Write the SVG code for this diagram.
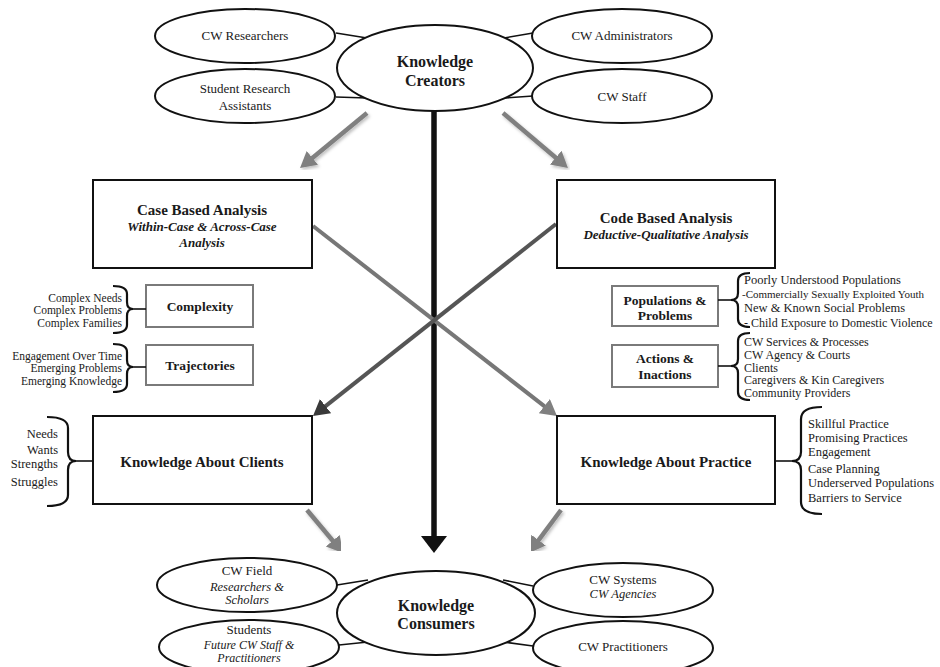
<svg xmlns="http://www.w3.org/2000/svg" width="940" height="667" viewBox="0 0 940 667">
<style>
text{font-family:"Liberation Serif","Times New Roman",serif;fill:#1a1a1a}
.ell{fill:#fff;stroke:#111;stroke-width:2}
.box{fill:#fff;stroke:#111;stroke-width:2}
.sbox{fill:#fff;stroke:#7a7a7a;stroke-width:2}
.t13{font-size:13px;text-anchor:middle}
.it{font-size:12.5px;font-style:italic;text-anchor:middle}
.kb{font-size:16px;font-weight:bold;text-anchor:middle}
.title{font-size:15px;font-weight:bold;text-anchor:middle}
.sub{font-size:13px;font-weight:bold;font-style:italic;text-anchor:middle}
.sb{font-size:13.5px;font-weight:bold;text-anchor:middle}
.lr{font-size:11.5px;text-anchor:end}
.ll{font-size:12.5px;text-anchor:start}
.brace{fill:none;stroke:#111;stroke-width:2.2}
.tie{stroke:#111;stroke-width:1.6}
.ga{stroke:#808080;stroke-width:4.5;fill:none;marker-end:url(#ag);filter:url(#sh)}
</style>
<defs>
<marker id="ag" markerUnits="userSpaceOnUse" markerWidth="20" markerHeight="20" refX="4" refY="9" orient="auto"><path d="M0,0 L16,9 L0,18 Z" fill="#808080"/></marker>
<marker id="ad" markerUnits="userSpaceOnUse" markerWidth="20" markerHeight="20" refX="4" refY="9" orient="auto"><path d="M0,0 L16,9 L0,18 Z" fill="#3a3a3a"/></marker>
<marker id="ab" markerUnits="userSpaceOnUse" markerWidth="20" markerHeight="28" refX="4" refY="13" orient="auto"><path d="M0,0 L17,13 L0,26 Z" fill="#111"/></marker>
<filter id="sh" x="-20%" y="-20%" width="140%" height="140%"><feDropShadow dx="1.5" dy="2" stdDeviation="1.5" flood-color="#000" flood-opacity="0.25"/></filter>
</defs>
<rect width="940" height="667" fill="#fff"/>

<g id="connectors">
<line class="tie" x1="336" y1="33" x2="367" y2="38"/>
<line class="tie" x1="336" y1="97" x2="367" y2="98"/>
<line class="tie" x1="504" y1="38" x2="533" y2="33"/>
<line class="tie" x1="504" y1="98" x2="533" y2="96"/>
<line class="tie" x1="337" y1="585" x2="368" y2="580"/>
<line class="tie" x1="339" y1="645" x2="368" y2="642"/>
<line class="tie" x1="503" y1="580" x2="533" y2="586"/>
<line class="tie" x1="503" y1="642" x2="533" y2="646"/>
<line x1="434" y1="110" x2="434" y2="540" stroke="#111" stroke-width="5.5" marker-end="url(#ab)"/>
<line class="ga" x1="367" y1="113" x2="309.3" y2="160.4"/>
<line class="ga" x1="503" y1="113" x2="558.8" y2="160.2"/>
<line class="ga" x1="295" y1="269" x2="295" y2="393"/>
<line class="ga" x1="572" y1="269" x2="572" y2="393"/>
<line x1="313" y1="226" x2="547.5" y2="408.6" stroke="#777" stroke-width="4" marker-end="url(#ag)"/>
<line x1="556" y1="224" x2="322.4" y2="408.6" stroke="#555" stroke-width="4" marker-end="url(#ad)"/>
<line class="ga" x1="307" y1="510" x2="335.3" y2="543.8"/>
<line class="ga" x1="561" y1="510" x2="536.2" y2="543.4"/>
</g>

<g id="cw-researchers"><ellipse class="ell" cx="245" cy="36" rx="90" ry="27"/><text class="t13" x="245" y="40">CW Researchers</text></g>
<g id="student-research-assistants"><ellipse class="ell" cx="245" cy="96" rx="90" ry="27"/><text class="t13" x="245" y="93">Student Research</text><text class="t13" x="245" y="110">Assistants</text></g>
<g id="knowledge-creators"><ellipse class="ell" cx="435" cy="68" rx="98" ry="43"/><text class="kb" x="435" y="67">Knowledge</text><text class="kb" x="435" y="86">Creators</text></g>
<g id="cw-administrators"><ellipse class="ell" cx="622" cy="36" rx="90" ry="27"/><text class="t13" x="622" y="40">CW Administrators</text></g>
<g id="cw-staff"><ellipse class="ell" cx="622" cy="96" rx="90" ry="27"/><text class="t13" x="622" y="101">CW Staff</text></g>

<g id="case-based-analysis"><rect class="box" x="93" y="180" width="219" height="88"/><text class="title" x="202" y="215">Case Based Analysis</text><text class="sub" x="202" y="231">Within-Case &amp; Across-Case</text><text class="sub" x="202" y="247">Analysis</text></g>
<g id="code-based-analysis"><rect class="box" x="557" y="180" width="218" height="88"/><text class="title" x="666" y="223">Code Based Analysis</text><text class="sub" x="666" y="239">Deductive-Qualitative Analysis</text></g>

<g id="complexity"><rect class="sbox" x="146" y="285" width="107" height="42"/><text class="sb" x="200" y="311">Complexity</text>
<path class="brace" d="M113,286 Q127,286 127,294 L127,302 Q127,309 133,309 Q127,309 127,316 L127,325 Q127,333 113,333"/><line class="tie" x1="133" y1="309" x2="146" y2="309" stroke-width="2.5"/>
<text class="lr" x="122" y="301.5">Complex Needs</text><text class="lr" x="122" y="314">Complex Problems</text><text class="lr" x="122" y="326.5">Complex Families</text></g>

<g id="trajectories"><rect class="sbox" x="146" y="345" width="107" height="40"/><text class="sb" x="200" y="370">Trajectories</text>
<path class="brace" d="M113,344 Q127,344 127,352 L127,360 Q127,367 133,367 Q127,367 127,374 L127,384 Q127,392 113,392"/><line class="tie" x1="133" y1="367" x2="146" y2="367" stroke-width="2.5"/>
<text class="lr" x="122" y="359.5">Engagement Over Time</text><text class="lr" x="122" y="372">Emerging Problems</text><text class="lr" x="122" y="384.5">Emerging Knowledge</text></g>

<g id="populations-problems"><rect class="sbox" x="612" y="286" width="106" height="40"/><text class="sb" x="665" y="305">Populations &amp;</text><text class="sb" x="665" y="320">Problems</text>
<path class="brace" d="M750,273 Q738,273 738,281 L738,293 Q738,300 731,300 Q738,300 738,307 L738,319 Q738,327 750,327"/><line class="tie" x1="718" y1="300" x2="731" y2="300" stroke-width="2.5"/>
<text class="ll" x="744" y="284">Poorly Understood Populations</text><text class="ll" x="742" y="298" style="font-size:11px">-Commercially Sexually Exploited Youth</text><text class="ll" x="744" y="312">New &amp; Known Social Problems</text><text class="ll" x="744" y="326.5" style="font-size:12px">- Child Exposure to Domestic Violence</text></g>

<g id="actions-inactions"><rect class="sbox" x="612" y="345" width="106" height="42"/><text class="sb" x="665" y="363">Actions &amp;</text><text class="sb" x="665" y="379">Inactions</text>
<path class="brace" d="M750,333 Q738,333 738,341 L738,359 Q738,366 731,366 Q738,366 738,373 L738,392 Q738,400 750,400"/><line class="tie" x1="718" y1="366" x2="731" y2="366" stroke-width="2.5"/>
<g style="font-size:12px"><text class="ll" x="744" y="346" style="font-size:12px">CW Services &amp; Processes</text><text class="ll" x="744" y="359" style="font-size:12px">CW Agency &amp; Courts</text><text class="ll" x="744" y="371.5" style="font-size:12px">Clients</text><text class="ll" x="744" y="384" style="font-size:12px">Caregivers &amp; Kin Caregivers</text><text class="ll" x="744" y="396.5" style="font-size:12px">Community Providers</text></g></g>

<g id="knowledge-about-clients"><rect class="box" x="93" y="416" width="219" height="88"/><text class="title" x="202" y="467">Knowledge About Clients</text>
<path class="brace" d="M47,417 Q68,417 68,428 L68,452 Q68,461 76,461 Q68,461 68,470 L68,495 Q68,506 47,506"/><line class="tie" x1="76" y1="461" x2="93" y2="461" stroke-width="2.5"/>
<text class="lr" x="58" y="438" style="font-size:12.5px">Needs</text><text class="lr" x="58" y="454" style="font-size:12.5px">Wants</text><text class="lr" x="58" y="468" style="font-size:12.5px">Strengths</text><text class="lr" x="58" y="486" style="font-size:12.5px">Struggles</text></g>

<g id="knowledge-about-practice"><rect class="box" x="557" y="416" width="218" height="88"/><text class="title" x="666" y="467">Knowledge About Practice</text>
<path class="brace" d="M822,407 Q801,407 801,419 L801,452 Q801,461 792,461 Q801,461 801,470 L801,502 Q801,514 822,514"/><line class="tie" x1="775" y1="461" x2="792" y2="461" stroke-width="2.5"/>
<text class="ll" x="808" y="428">Skillful Practice</text><text class="ll" x="808" y="442">Promising Practices</text><text class="ll" x="808" y="456">Engagement</text><text class="ll" x="808" y="473">Case Planning</text><text class="ll" x="808" y="487">Underserved Populations</text><text class="ll" x="808" y="502">Barriers to Service</text></g>

<g id="cw-field"><ellipse class="ell" cx="247" cy="585" rx="90" ry="27"/><text class="t13" x="247" y="575">CW Field</text><text class="it" x="247" y="591">Researchers &amp;</text><text class="it" x="247" y="604">Scholars</text></g>
<g id="students"><ellipse class="ell" cx="249" cy="647" rx="90" ry="27"/><text class="t13" x="249" y="634">Students</text><text class="it" x="249" y="649" style="font-size:12px">Future CW Staff &amp;</text><text class="it" x="249" y="662" style="font-size:12px">Practitioners</text></g>
<g id="knowledge-consumers"><ellipse class="ell" cx="436" cy="613" rx="99" ry="42"/><text class="kb" x="436" y="611">Knowledge</text><text class="kb" x="436" y="629">Consumers</text></g>
<g id="cw-systems"><ellipse class="ell" cx="623" cy="590" rx="90" ry="27"/><text class="t13" x="623" y="584">CW Systems</text><text class="it" x="623" y="598">CW Agencies</text></g>
<g id="cw-practitioners"><ellipse class="ell" cx="623" cy="648" rx="90" ry="27"/><text class="t13" x="623" y="651">CW Practitioners</text></g>
</svg>
